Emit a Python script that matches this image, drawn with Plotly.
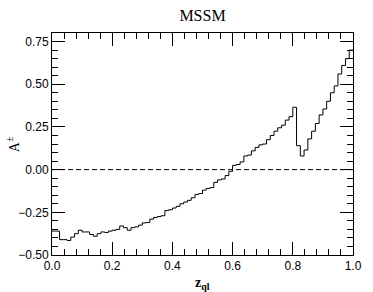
import numpy as np
import plotly.graph_objects as go

# Histogram: 80 bins of z_ql on [0, 1]
z_min, z_max, n_bins = 0.0, 1.0, 80
asym = [
    -0.36, -0.36, -0.41, -0.41, -0.415, -0.395, -0.375, -0.355, -0.365, -0.365,
    -0.38, -0.39, -0.375, -0.365, -0.368, -0.36, -0.355, -0.35, -0.33, -0.34,
    -0.355, -0.34, -0.335, -0.325, -0.312, -0.31, -0.29, -0.28, -0.275, -0.27,
    -0.24, -0.235, -0.225, -0.215, -0.20, -0.19, -0.18, -0.165, -0.145, -0.14,
    -0.12, -0.11, -0.105, -0.075, -0.06, -0.055, -0.035, -0.01, 0.025, 0.03,
    0.045, 0.08, 0.085, 0.11, 0.13, 0.145, 0.15, 0.175, 0.20, 0.225,
    0.245, 0.26, 0.29, 0.31, 0.365, 0.14, 0.08, 0.115, 0.18, 0.225,
    0.27, 0.32, 0.355, 0.40, 0.45, 0.49, 0.56, 0.61, 0.65, 0.70,
]
x_ticks = [0.0, 0.2, 0.4, 0.6, 0.8, 1.0]
y_ticks = [-0.50, -0.25, 0.00, 0.25, 0.50, 0.75]

edges = np.linspace(z_min, z_max, n_bins + 1)
xs = list(edges)
ys = list(asym) + [asym[-1]]

fig = go.Figure()
fig.add_trace(go.Scatter(x=xs, y=ys, mode="lines", line=dict(color="black", width=1, shape="hv"),
                         hoverinfo="skip", showlegend=False))

fig.add_shape(type="line", xref="paper", yref="y", x0=0, x1=1, y0=0, y1=0,
              line=dict(color="black", width=1, dash="5px,3px"))

axis_common = dict(showgrid=False, zeroline=False, showline=True, linecolor="black", linewidth=1,
                   mirror="allticks", ticks="inside", ticklen=13, tickwidth=1, tickcolor="black",
                   tickfont=dict(family="Liberation Sans, Arial", size=12, color="black"))

fig.update_xaxes(range=[0, 1], tickvals=x_ticks, tickformat=".1f",
                 minor=dict(dtick=0.04, ticks="inside", ticklen=6, tickcolor="black", tickwidth=1),
                 **axis_common)
fig.update_yaxes(range=[-0.5, 0.8], tickvals=y_ticks, tickformat=".2f",
                 minor=dict(dtick=0.05, ticks="inside", ticklen=6, tickcolor="black", tickwidth=1),
                 **axis_common)

fig.update_layout(
    width=373, height=292,
    margin=dict(l=52, r=11, t=33, b=37),
    paper_bgcolor="white", plot_bgcolor="white",
    title=dict(text="MSSM", x=0.5, xref="paper", y=1 - 15 / 292, yref="container",
               xanchor="center", yanchor="middle",
               font=dict(family="Liberation Serif, Times New Roman", size=16, color="black")),
    annotations=[
        dict(text="A<sup>±</sup>", xref="paper", yref="paper", x=-40 / 310, y=0.5,
             textangle=-90, showarrow=False, xanchor="center", yanchor="middle",
             font=dict(family="Liberation Serif, Times New Roman", size=14, color="black")),
        dict(text="<b>z<sub>ql</sub></b>", xref="paper", yref="paper", x=0.5, y=-28 / 222,
             showarrow=False, xanchor="center", yanchor="middle",
             font=dict(family="Liberation Serif, Times New Roman", size=14, color="black")),
    ],
)

fig.write_html("out.html", config={"displayModeBar": False},
               post_script="document.body.style.margin='0px';document.body.style.overflow='hidden';")
